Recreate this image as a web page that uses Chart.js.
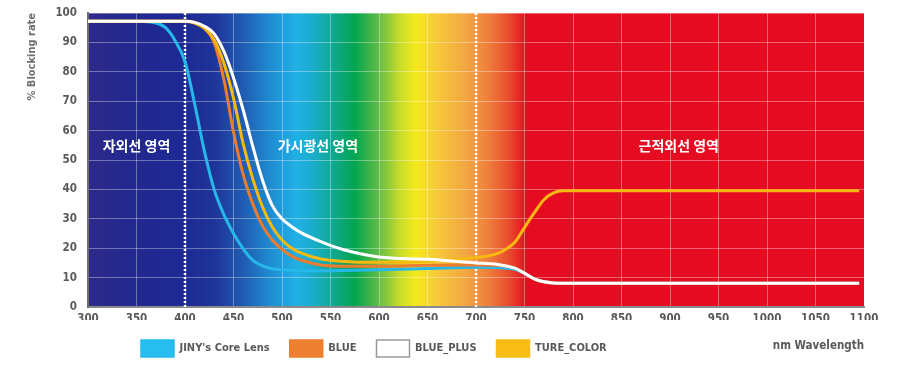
<!DOCTYPE html>
<html>
<head>
<meta charset="utf-8">
<script src="https://cdn.jsdelivr.net/npm/chart.js@4.4.1/dist/chart.umd.min.js"></script>
<style>
  html, body { margin: 0; padding: 0; background: #fff; }
  #wrap { width: 913px; height: 370px; }
</style>
</head>
<body>
<div id="wrap"><canvas id="blockChart"></canvas></div>
<script>
// wavelength (nm) sample points shared by every curve
var wavelengths = [300, 350, 370, 380, 390, 400, 410, 420, 430, 440, 450, 460, 470, 480, 490, 500, 510, 520, 540, 560,
                   600, 650, 700, 720, 730, 740, 750, 760, 770, 780, 790, 800, 900, 1000, 1095];

var coreLens = [97.2, 97.2, 96.6, 95, 90.5, 83.5, 69, 53, 40, 31.5, 25, 19.8, 15.9, 14, 13, 12.7, 12.5, 12.4, 12.3, 12.4,
                12.7, 13.1, 13.5, 13.4, 13.2, 12.8, 11.4, 9.6, 8.6, 8.2, 8.1, 8.1, 8.1, 8.1, 8.1];
var blue = [97.2, 97.2, 97.2, 97.2, 97.2, 97.2, 96.8, 95, 90, 77.5, 59.5, 45, 35, 27.6, 22.8, 19.6, 17.3, 15.9, 14.3, 13.9,
            13.9, 14.2, 14.3, 14.2, 13.9, 13.2, 11.5, 9.6, 8.6, 8.2, 8.1, 8.1, 8.1, 8.1, 8.1];
var bluePlus = [97.2, 97.2, 97.2, 97.2, 97.2, 97.2, 96.8, 95.5, 93, 87, 78, 67, 54.5, 43, 34.5, 30, 27.3, 25.2, 22.2, 19.8,
                17, 16.2, 15, 14.6, 14, 13.2, 11.5, 9.6, 8.6, 8.2, 8.1, 8.1, 8.1, 8.1, 8.1];
var tureColor = [97.2, 97.2, 97.2, 97.2, 97.2, 97.2, 96.6, 94.8, 91, 83, 71, 55.5, 43.5, 34, 27.2, 22.8, 20, 18.3, 16.3, 15.6,
                 15.2, 15.5, 16.8, 18, 19.5, 22, 27, 32, 36.5, 38.8, 39.5, 39.5, 39.5, 39.5, 39.5];

var seriesNames = ["JINY's Core Lens", "BLUE", "BLUE_PLUS", "TURE_COLOR"];
var regionBounds = [400, 700];
var regionNames = ["자외선 영역", "가시광선 영역", "근적외선 영역"];

function points(values) {
    return wavelengths.map(function (w, i) { return { x: w, y: values[i] }; });
}

var spectrumStops = [
    [300, '#2e2a89'], [340, '#23288f'], [400, '#1d2a93'], [430, '#1e3499'], [460, '#1f5cb2'],
    [490, '#1f8fd3'], [515, '#21b0e5'], [532, '#19adcb'], [555, '#0fa789'], [575, '#03a54f'],
    [600, '#62bd46'], [620, '#c3da2c'], [638, '#f5ea1c'], [660, '#f6c93a'], [690, '#f3a542'],
    [715, '#ed7a3b'], [735, '#e8482d'], [752, '#e50b20'], [1100, '#e50b20']
];

var spectrumBackground = {
    id: 'spectrumBackground',
    beforeDraw: function (chart) {
        var ctx = chart.ctx, a = chart.chartArea, x = chart.scales.x;
        var x0 = x.getPixelForValue(300), x1 = x.getPixelForValue(1100);
        var g = ctx.createLinearGradient(x0, 0, x1, 0);
        spectrumStops.forEach(function (s) {
            g.addColorStop((x.getPixelForValue(s[0]) - x0) / (x1 - x0), s[1]);
        });
        ctx.save();
        ctx.fillStyle = g;
        ctx.fillRect(a.left, a.top, a.right - a.left, a.bottom - a.top);
        ctx.restore();
    }
};

var regionMarks = {
    id: 'regionMarks',
    beforeDatasetsDraw: function (chart) {
        var ctx = chart.ctx, a = chart.chartArea, x = chart.scales.x, y = chart.scales.y;
        ctx.save();
        ctx.strokeStyle = '#ffffff';
        ctx.lineWidth = 2.5;
        ctx.setLineDash([2, 2]);
        regionBounds.forEach(function (v) {
            var px = Math.round(x.getPixelForValue(v));
            ctx.beginPath();
            ctx.moveTo(px, a.top);
            ctx.lineTo(px, a.bottom);
            ctx.stroke();
        });
        ctx.setLineDash([]);
        ctx.fillStyle = '#ffffff';
        ctx.font = "bold 14px 'Noto Sans CJK KR'";
        ctx.textAlign = 'center';
        ctx.textBaseline = 'middle';
        var labelAt = [350, 537, 909];
        regionNames.forEach(function (t, i) {
            ctx.fillText(t, x.getPixelForValue(labelAt[i]), y.getPixelForValue(55));
        });
        ctx.restore();
    }
};

// move the legend row under the plot, level with the axis title
var legendNudge = {
    id: 'legendNudge',
    afterLayout: function (chart) {
        var l = chart.legend;
        var dx = 121 - l.left;
        l.left += dx;
        l.right += dx;
    }
};

Chart.defaults.font.family = "'Liberation Sans Narrow', 'DejaVu Sans Condensed', 'Roboto', sans-serif";

var tickColor = '#58595b';
var gridColor = 'rgba(255, 255, 255, 0.35)';

var data = {
    datasets: [
        {
            label: seriesNames[0],
            data: points(coreLens),
            borderColor: '#27b8ea',
            backgroundColor: '#27bdee',
            order: 3
        },
        {
            label: seriesNames[1],
            data: points(blue),
            borderColor: '#ea7b30',
            backgroundColor: '#ee7f31',
            order: 2
        },
        {
            label: seriesNames[2],
            data: points(bluePlus),
            borderColor: '#ffffff',
            backgroundColor: '#ffffff',
            order: 0
        },
        {
            label: seriesNames[3],
            data: points(tureColor),
            borderColor: '#f7b811',
            backgroundColor: '#f8be17',
            order: 1
        }
    ]
};

var options = {
    responsive: true,
    maintainAspectRatio: false,
    animation: false,
    layout: { padding: { left: 26, right: 49, top: 13, bottom: 3 } },
    elements: {
        line: { borderWidth: 3, cubicInterpolationMode: 'monotone', fill: false },
        point: { radius: 0, hoverRadius: 0 }
    },
    plugins: {
        tooltip: { enabled: false },
        legend: {
            position: 'bottom',
            align: 'start',
            labels: {
                boxWidth: 33,
                boxHeight: 17,
                padding: 20,
                color: tickColor,
                font: { size: 11, weight: 'bold' },
                sort: function (a, b) { return a.datasetIndex - b.datasetIndex; },
                generateLabels: function (chart) {
                    var items = Chart.defaults.plugins.legend.labels.generateLabels(chart);
                    items.forEach(function (it) {
                        it.strokeStyle = it.fillStyle === '#ffffff' ? '#9a9a9a' : it.fillStyle;
                        it.lineWidth = 1.5;
                    });
                    return items;
                }
            }
        }
    },
    scales: {
        x: {
            type: 'linear',
            min: 300,
            max: 1100,
            ticks: {
                stepSize: 50,
                padding: 5,
                color: tickColor,
                font: { size: 11.5, weight: 'bold' },
                callback: function (v) { return String(v); }
            },
            grid: { color: gridColor, drawTicks: false },
            border: { color: '#8a8a8a', width: 2 },
            title: {
                display: true,
                text: 'nm Wavelength',
                align: 'end',
                color: tickColor,
                font: { size: 11.5, weight: 'bold' },
                padding: { top: 10, bottom: -32.6 }
            },
            afterFit: function (scale) { scale.height = 13; }
        },
        y: {
            min: 0,
            max: 100,
            ticks: {
                stepSize: 10,
                padding: 11,
                color: tickColor,
                font: { size: 11.5, weight: 'bold' }
            },
            grid: { color: gridColor, drawTicks: false },
            border: { color: '#6d6e71', width: 2 },
            title: {
                display: true,
                text: '% Blocking rate',
                align: 'end',
                color: '#6d6e71',
                font: { size: 11, weight: 'bold' },
                padding: { top: 0, bottom: 0 }
            },
            afterFit: function (scale) {
                scale.width = 62;
                scale.paddingTop = 7;
                scale.paddingBottom = 7;
            }
        }
    }
};

var chart = new Chart(document.getElementById('blockChart'), {
    type: 'line',
    data: data,
    options: options,
    plugins: [spectrumBackground, regionMarks, legendNudge]
});
</script>
</body>
</html>
